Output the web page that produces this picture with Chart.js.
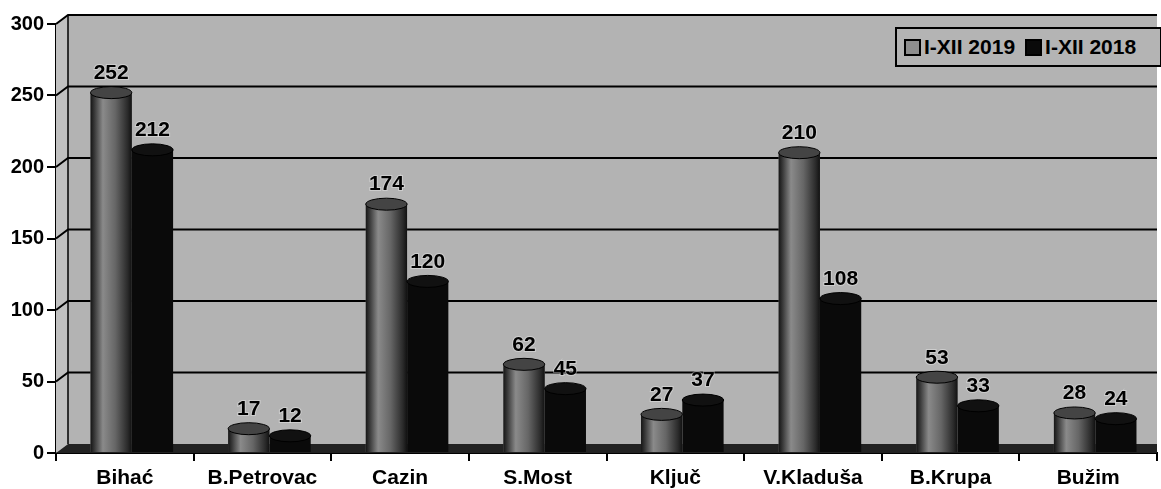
<!DOCTYPE html>
<html>
<head>
<meta charset="utf-8">
<script src="https://cdn.jsdelivr.net/npm/chart.js@4.4.1/dist/chart.umd.min.js"></script>
<style>
  html, body { margin: 0; padding: 0; background: #fff; }
  #wrap { position: relative; width: 1161px; height: 489px; }
  #legend {
    position: absolute; left: 895px; top: 27px; width: 256px; height: 36px;
    border: 2px solid #000; background: #b4b4b4;
    display: flex; align-items: center; gap: 10px; padding-left: 7px;
    font: bold 21px Arial, "Liberation Sans", sans-serif; color: #000;
  }
  .lg { display: flex; align-items: center; gap: 3px; }
  .sw { width: 13px; height: 13px; border: 2px solid #000; }
</style>
</head>
<body>
<div id="wrap">
  <canvas id="c" width="1161" height="489"></canvas>
  <div id="legend"></div>
</div>
<script>
"use strict";

// ── Data ──────────────────────────────────────────────────────────────
const categories = ['Bihać', 'B.Petrovac', 'Cazin', 'S.Most', 'Ključ', 'V.Kladuša', 'B.Krupa', 'Bužim'];
const seriesNames = ['I-XII 2019', 'I-XII 2018'];
const values2019 = [252, 17, 174, 62, 27, 210, 53, 28];
const values2018 = [212, 12, 120, 45, 37, 108, 33, 24];
const yMax = 300;
const yStep = 50;

const FONT = 'Arial, "Liberation Sans", sans-serif';
const COL_2019 = '#7e7e7e';
const COL_2018 = '#0a0a0a';
const DEPTH_X = 12, DEPTH_Y = 9;   // back wall offset (3D look)
const BAR_SHIFT = 7;

// legend (html)
const legend = document.getElementById('legend');
[[seriesNames[0], '#8e8e8e'], [seriesNames[1], COL_2018]].forEach(([name, col]) => {
  const d = document.createElement('div');
  d.className = 'lg';
  d.innerHTML = `<span class="sw" style="background:${col}"></span><span>${name}</span>`;
  legend.appendChild(d);
});

// ── 3D-ish walls, floor, back gridlines, cylinders ────────────────────
const wallPlugin = {
  id: 'walls',
  beforeDatasetsDraw(chart) {
    const { ctx, chartArea: { left, right, top, bottom }, scales: { y } } = chart;
    const wl = left + DEPTH_X, wt = top - DEPTH_Y, wb = bottom - DEPTH_Y;
    ctx.save();
    // back wall
    ctx.fillStyle = '#b3b3b3';
    ctx.fillRect(wl, wt, right - wl, wb - wt);
    // side wall
    ctx.fillStyle = '#c0c0c0';
    ctx.beginPath();
    ctx.moveTo(left, top); ctx.lineTo(wl, wt); ctx.lineTo(wl, wb); ctx.lineTo(left, bottom);
    ctx.closePath(); ctx.fill();
    // floor
    ctx.fillStyle = '#222';
    ctx.beginPath();
    ctx.moveTo(left, bottom); ctx.lineTo(wl, wb); ctx.lineTo(right, wb); ctx.lineTo(right, bottom);
    ctx.closePath(); ctx.fill();
    // gridlines on back wall + diagonals on side wall
    ctx.strokeStyle = '#000';
    ctx.lineWidth = 2;
    for (let v = yStep; v <= yMax; v += yStep) {
      const yp = y.getPixelForValue(v);
      ctx.beginPath();
      ctx.moveTo(left, yp); ctx.lineTo(wl, yp - DEPTH_Y); ctx.lineTo(right, yp - DEPTH_Y);
      ctx.stroke();
    }
    ctx.lineWidth = 1.5;
    ctx.beginPath(); ctx.moveTo(wl, wt); ctx.lineTo(wl, wb); ctx.stroke();
    ctx.restore();

    ctx.save();
    ctx.translate(BAR_SHIFT, 0);
  },
  afterDatasetsDraw(chart) {
    const { ctx } = chart;
    // cylinder shading + caps
    chart.data.datasets.forEach((ds, di) => {
      const meta = chart.getDatasetMeta(di);
      meta.data.forEach(bar => {
        const w = bar.width, x0 = bar.x - w / 2;
        if (di === 0) {
          const g = ctx.createLinearGradient(x0, 0, x0 + w, 0);
          g.addColorStop(0, '#151515');
          g.addColorStop(0.1, '#3a3a3a');
          g.addColorStop(0.3, '#8a8a8a');
          g.addColorStop(0.6, '#666');
          g.addColorStop(0.9, '#2a2a2a');
          g.addColorStop(1, '#111');
          ctx.fillStyle = g;
          ctx.fillRect(x0, bar.y, w, bar.base - bar.y);
        }
        ctx.beginPath();
        ctx.ellipse(bar.x, bar.y, w / 2, 6, 0, 0, Math.PI * 2);
        ctx.fillStyle = di === 0 ? '#444' : '#111';
        ctx.fill();
        ctx.strokeStyle = '#000';
        ctx.lineWidth = 1;
        ctx.stroke();
      });
    });
    // value labels
    chart.data.datasets.forEach((ds, di) => {
      const meta = chart.getDatasetMeta(di);
      meta.data.forEach((bar, i) => {
        ctx.font = `bold 21px ${FONT}`;
        ctx.textAlign = 'center';
        ctx.textBaseline = 'bottom';
        ctx.lineWidth = 2;
        ctx.strokeStyle = 'rgba(255,255,255,0.35)';
        ctx.strokeText(ds.data[i], bar.x, bar.y - 9);
        ctx.fillStyle = '#000';
        ctx.fillText(ds.data[i], bar.x, bar.y - 9);
      });
    });
    ctx.restore();
  }
};

// ── Chart ─────────────────────────────────────────────────────────────
new Chart(document.getElementById('c').getContext('2d'), {
  type: 'bar',
  data: {
    labels: categories,
    datasets: [
      { label: seriesNames[0], data: values2019, backgroundColor: COL_2019, borderWidth: 0 },
      { label: seriesNames[1], data: values2018, backgroundColor: COL_2018, borderWidth: 0 }
    ]
  },
  options: {
    responsive: false,
    animation: false,
    categoryPercentage: 0.6,
    barPercentage: 1.0,
    layout: { padding: { top: 24, right: 4, left: 0, bottom: 0 } },
    plugins: { legend: { display: false }, tooltip: { enabled: false } },
    scales: {
      x: {
        afterFit: s => { s.height = 36; },
        grid: { display: true, drawOnChartArea: false, color: '#000', lineWidth: 2, tickLength: 8, offset: true },
        border: { display: true, color: '#000', width: 2 },
        ticks: { color: '#000', padding: 5, font: { family: FONT, size: 21, weight: 'bold' } }
      },
      y: {
        min: 0, max: yMax,
        afterFit: s => { s.width = 56; },
        grid: { display: true, drawOnChartArea: false, color: '#000', lineWidth: 2, tickLength: 9 },
        border: { display: true, color: '#000', width: 2 },
        ticks: { stepSize: yStep, color: '#000', padding: 3, font: { family: FONT, size: 20, weight: 'bold' } }
      }
    }
  },
  plugins: [wallPlugin]
});
</script>
</body>
</html>
